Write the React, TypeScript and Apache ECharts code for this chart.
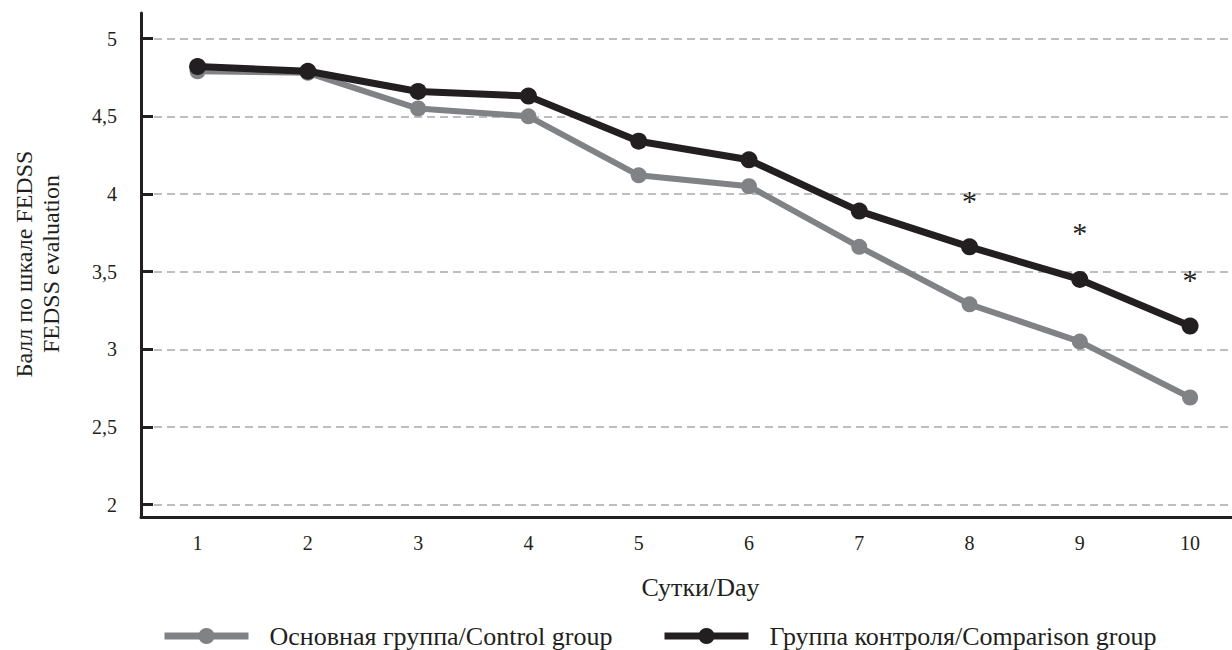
import React, { useEffect, useRef } from 'react';
import * as echarts from 'echarts';

const days = [1, 2, 3, 4, 5, 6, 7, 8, 9, 10];
const controlGroup = [4.79, 4.78, 4.55, 4.5, 4.12, 4.05, 3.66, 3.29, 3.05, 2.69];
const comparisonGroup = [4.82, 4.79, 4.66, 4.63, 4.34, 4.22, 3.89, 3.66, 3.45, 3.15];
const significant = [false, false, false, false, false, false, false, true, true, true];
const yTicks = [2, 2.5, 3, 3.5, 4, 4.5, 5];
const seriesNames = ['Основная группа/Control group', 'Группа контроля/Comparison group'];
const xTitle = 'Сутки/Day';
const yTitle = ['Балл по шкале FEDSS', 'FEDSS evaluation'];

const FONT = 'Liberation Serif';
const DARK = '#231f20';
const GRAY = '#808285';

export default function App() {
  const ref = useRef<HTMLDivElement>(null);
  useEffect(() => {
    if (!ref.current) return;
    const chart = echarts.init(ref.current, null, { renderer: 'svg' });
    const legendText = { fontFamily: FONT, fontSize: 26, color: DARK, padding: [0, 0, 0, 16] };
    chart.setOption({
      animation: false,
      backgroundColor: '#ffffff',
      grid: { left: 141, right: 0, top: 13, bottom: 133, containLabel: false },
      xAxis: {
        type: 'value',
        min: 0.487,
        max: 10.38,
        name: xTitle,
        nameLocation: 'middle',
        nameGap: 57,
        nameTextStyle: { fontFamily: FONT, fontSize: 26, color: DARK, padding: [0, 0, 0, 28] },
        axisLine: { show: true, onZero: false, lineStyle: { color: DARK, width: 3 } },
        axisTick: { show: false },
        splitLine: { show: false },
        axisLabel: {
          customValues: days,
          fontFamily: FONT,
          fontSize: 20,
          color: DARK,
          margin: 16,
        },
      },
      yAxis: {
        type: 'value',
        min: 1.921,
        max: 5.165,
        axisLine: { show: true, lineStyle: { color: DARK, width: 3 } },
        axisTick: { show: true, inside: true, length: 12, customValues: yTicks, lineStyle: { color: DARK, width: 3 } },
        splitLine: { show: true, lineStyle: { color: '#a7a9ac', width: 1.5, type: [8, 5] } },
        axisLabel: {
          customValues: yTicks,
          fontFamily: FONT,
          fontSize: 20,
          color: DARK,
          margin: 24,
          formatter: (v: number) => String(v).replace('.', ','),
        },
      },
      legend: [
        {
          data: [seriesNames[0]],
          left: 156,
          top: 618,
          itemWidth: 84,
          itemHeight: 20,
          lineStyle: { width: 7 },
          textStyle: legendText,
        },
        {
          data: [seriesNames[1]],
          left: 656,
          top: 618,
          itemWidth: 84,
          itemHeight: 20,
          lineStyle: { width: 7 },
          textStyle: legendText,
        },
      ],
      graphic: [
        {
          type: 'text',
          x: 37,
          y: 264,
          rotation: Math.PI / 2,
          style: {
            text: yTitle.join('\n'),
            fontFamily: FONT,
            fontSize: 24,
            lineHeight: 27,
            fill: DARK,
            align: 'center',
            verticalAlign: 'middle',
          },
        },
      ],
      series: [
        {
          name: seriesNames[0],
          type: 'line',
          data: days.map((d, i) => [d, controlGroup[i]]),
          symbol: 'circle',
          symbolSize: 16,
          itemStyle: { color: GRAY },
          lineStyle: { color: GRAY, width: 6 },
          z: 2,
        },
        {
          name: seriesNames[1],
          type: 'line',
          data: days.map((d, i) => ({
            value: [d, comparisonGroup[i]],
            label: significant[i]
              ? {
                  show: true,
                  formatter: '*',
                  position: 'top',
                  distance: 23,
                  fontFamily: FONT,
                  fontSize: 30,
                  color: DARK,
                }
              : { show: false },
          })),
          symbol: 'circle',
          symbolSize: 17,
          itemStyle: { color: DARK },
          lineStyle: { color: DARK, width: 7 },
          z: 3,
        },
      ],
    });
    return () => chart.dispose();
  }, []);
  return (
    <div
      ref={ref}
      style={{ position: 'absolute', left: 0, top: 0, width: 1232, height: 650 }}
    />
  );
}
